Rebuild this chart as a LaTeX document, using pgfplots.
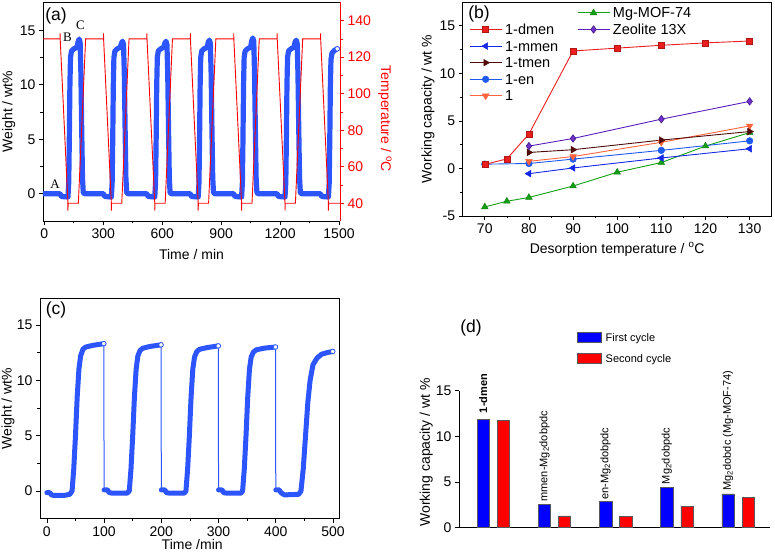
\documentclass[border=0pt]{standalone}
\usepackage{pgfplots}
\pgfplotsset{compat=1.18}
\usepackage{fontspec}
\setmainfont{Liberation Sans}
\newfontfamily\seriffont{Liberation Serif}
\definecolor{cblue}{RGB}{45,85,255}
\definecolor{dmenred}{RGB}{235,30,30}
\definecolor{mmenblue}{RGB}{20,40,230}
\definecolor{tmenbrown}{RGB}{80,10,10}
\definecolor{enblue}{RGB}{30,90,240}
\definecolor{oneorange}{RGB}{255,100,60}
\definecolor{mofgreen}{RGB}{20,160,20}
\definecolor{zeopurple}{RGB}{90,30,190}
\definecolor{zeofill}{RGB}{110,50,200}
\pgfplotsset{
  myax/.style={
    scale only axis,
    anchor=south west,
    tick align=outside,
    xtick pos=left, ytick pos=left,
    major tick length=4pt, minor tick length=2.5pt,
    every tick/.style={black, line width=0.7pt},
    axis line style={line width=0.8pt},
    tick label style={font=\fontsize{14}{16}\selectfont},
    /pgf/number format/assume math mode=true,
    /pgf/number format/1000 sep={},
  },
  dmen/.style={color=dmenred, line width=0.9pt, mark=square*, mark size=3pt, mark options={fill=dmenred, draw=dmenred!75!black, line width=0.5pt}},
  mmen/.style={color=mmenblue, line width=0.9pt, mark=triangle*, mark size=3.8pt, mark options={rotate=90, fill=mmenblue, draw=mmenblue, line width=0.5pt}},
  tmen/.style={color=tmenbrown, line width=0.9pt, mark=triangle*, mark size=3.8pt, mark options={rotate=-90, fill=tmenbrown, draw=tmenbrown, line width=0.5pt}},
  en/.style={color=enblue, line width=0.9pt, mark=*, mark size=3.3pt, mark options={fill=enblue, draw=enblue, line width=0.5pt}},
  one/.style={color=oneorange, line width=0.9pt, mark=triangle*, mark size=3.8pt, mark options={rotate=180, fill=oneorange, draw=oneorange, line width=0.5pt}},
  mof/.style={color=mofgreen, line width=0.9pt, mark=triangle*, mark size=3.8pt, mark options={fill=mofgreen, draw=mofgreen!80!black, line width=0.5pt}},
  zeo/.style={color=zeopurple, line width=0.9pt, mark=diamond*, mark size=3.8pt, mark options={fill=zeofill, draw=zeopurple!70!black, line width=0.5pt}},
}
\begin{document}
\begin{tikzpicture}
\useasboundingbox (0pt,0pt) rectangle (775pt,551pt);

%% ---------------- (a) left axis: weight ----------------
\begin{axis}[myax, at={(43pt,330pt)}, width=297pt, height=219pt,
  xmin=-7, xmax=1505, ymin=-2.5, ymax=17.6,
  axis y line*=left,
  xtick={0,300,...,1500}, minor x tick num=1,
  ytick={0,5,10,15}, minor y tick num=1,
  xlabel={Time / min}, ylabel={Weight / wt\%},
  every axis x label/.style={at={(axis description cs:0.5,-0.178)}, anchor=base, font=\fontsize{14}{16}\selectfont},
  every axis y label/.style={at={(axis description cs:-0.115,0.5)}, rotate=90, anchor=center, font=\fontsize{14}{16}\selectfont},
]
\addplot[cblue, line width=5.2pt, line join=round, line cap=round] coordinates {
(-7,0) (80,0)
(86,-0.25) (120,-0.3) (124,1) (127,5) (130,10) (133,12.5) (138,13.1) (150,13.3) (166,13.45) (171,13.9) (177,14.2) (182,13.9) (186,11) (190,6) (194,1.5) (198,0.1) (205,0) (301,0)
(307,-0.25) (341,-0.3) (345,1) (348,5) (351,10) (354,12.5) (359,13.1) (371,13.3) (387,13.45) (392,13.8) (398,14.0) (403,13.7) (407,11) (411,6) (415,1.5) (419,0.1) (426,0) (522,0)
(528,-0.25) (562,-0.3) (566,1) (569,5) (572,10) (575,12.5) (580,13.1) (592,13.3) (608,13.45) (613,13.8) (619,14.0) (624,13.7) (628,11) (632,6) (636,1.5) (640,0.1) (647,0) (743,0)
(749,-0.25) (783,-0.3) (787,1) (790,5) (793,10) (796,12.5) (801,13.1) (813,13.3) (829,13.45) (834,13.9) (840,14.1) (845,13.8) (849,11) (853,6) (857,1.5) (861,0.1) (868,0) (964,0)
(970,-0.25) (1004,-0.3) (1008,1) (1011,5) (1014,10) (1017,12.5) (1022,13.1) (1034,13.3) (1050,13.45) (1055,14.0) (1061,14.3) (1066,14.0) (1070,11) (1074,6) (1078,1.5) (1082,0.1) (1089,0) (1185,0)
(1191,-0.25) (1225,-0.3) (1229,1) (1232,5) (1235,10) (1238,12.5) (1243,13.1) (1255,13.3) (1271,13.45) (1276,13.9) (1282,14.1) (1287,13.8) (1291,11) (1295,6) (1299,1.5) (1303,0.1) (1310,0) (1406,0)
(1412,-0.25) (1446,-0.3) (1450,1) (1453,5) (1456,10) (1459,12.3) (1464,12.9) (1476,13.15) (1491,13.3)
};
\addplot[only marks, mark=*, mark size=2.3pt, mark options={fill=white, draw=cblue, line width=0.8pt}] coordinates {(1491,13.3)};
\node[font=\fontsize{17.5}{20}\selectfont] at (axis description cs:0.0438,0.934) {(a)};
\node[font=\seriffont\fontsize{13}{15}\selectfont] at (axis cs:54.5,0.9) {A};
\node[font=\seriffont\fontsize{13}{15}\selectfont] at (axis cs:118,14.37) {B};
\node[font=\seriffont\fontsize{13}{15}\selectfont] at (axis cs:184,15.43) {C};
\end{axis}

%% ---------------- (a) right axis: temperature ----------------
\begin{axis}[myax, at={(43pt,330pt)}, width=297pt, height=219pt,
  xmin=-7, xmax=1505, ymin=30.3, ymax=150.2,
  axis y line*=right, axis x line=none,
  ytick pos=right,
  ytick={40,60,...,140}, minor y tick num=1,
  y axis line style={red, line width=0.8pt},
  every tick/.style={red, line width=0.7pt},
  yticklabel style={red},
  ylabel={Temperature / \textsuperscript{o}C},
  every axis y label/.style={at={(axis description cs:1.151,0.466)}, rotate=-90, anchor=center, red, font=\fontsize{14}{16}\selectfont},
]
\addplot[red, line width=0.9pt] coordinates {
(-7,130) (80,130) (80,133) (80.5,130) (120,40) (120,36) (121,40) (173,40) (210,130)
(301,130) (301,133) (301.5,130) (341,40) (341,36) (342,40) (394,40) (431,130)
(522,130) (522,133) (522.5,130) (562,40) (562,36) (563,40) (615,40) (652,130)
(743,130) (743,133) (743.5,130) (783,40) (783,36) (784,40) (836,40) (873,130)
(964,130) (964,133) (964.5,130) (1004,40) (1004,36) (1005,40) (1057,40) (1094,130)
(1185,130) (1185,133) (1185.5,130) (1225,40) (1225,36) (1226,40) (1278,40) (1315,130)
(1406,130) (1406,133) (1406.5,130) (1446,40) (1446,36) (1447,40) (1505,40)
};
\end{axis}

%% ---------------- (b) ----------------
\begin{axis}[myax, at={(462.7pt,335pt)}, width=309pt, height=214pt,
  xmin=65, xmax=135, ymin=-5, ymax=17.5,
  xtick={70,80,...,130}, minor x tick num=1,
  ytick={-5,0,5,10,15}, minor y tick num=1,
  xlabel={Desorption temperature / \textsuperscript{o}C},
  ylabel={Working capacity / wt \%},
  every axis x label/.style={at={(axis description cs:0.5,-0.173)}, anchor=base, font=\fontsize{14}{16}\selectfont},
  every axis y label/.style={at={(axis description cs:-0.112,0.5)}, rotate=90, anchor=center, font=\fontsize{14}{16}\selectfont},
  legend columns=2,
  legend cell align=left,
  legend style={draw=none, fill=none, inner sep=0pt, at={(axis description cs:0.0204,0.9827)}, anchor=north west,
    font=\fontsize{14.5}{16}\selectfont, nodes={inner sep=1pt, text height=11pt, text depth=1pt},
    row sep=2.6pt, column sep=2pt, /tikz/every even column/.append style={column sep=17.8pt}},
  legend image code/.code={\draw[mark repeat=2,mark phase=2,#1] plot coordinates {(0pt,0pt) (16pt,0pt) (32pt,0pt)};},
]
\addplot[mof, forget plot] coordinates {(70,-4.05) (75,-3.45) (80,-3.05) (90,-1.85) (100,-0.4) (110,0.62) (120,2.35) (130,3.77)};
\addplot[mmen, forget plot] coordinates {(80,-0.55) (90,0.05) (110,1.1) (130,2.07)};
\addplot[en, forget plot] coordinates {(70,0.45) (80,0.52) (90,0.98) (110,1.9) (130,2.9)};
\addplot[one, forget plot] coordinates {(80,0.75) (90,1.25) (110,2.75) (130,4.47)};
\addplot[tmen, forget plot] coordinates {(80,1.68) (90,1.97) (110,2.98) (130,3.88)};
\addplot[zeo, forget plot] coordinates {(80,2.35) (90,3.15) (110,5.18) (130,7.05)};
\addplot[dmen, forget plot] coordinates {(70,0.42) (75,1.0) (80,3.62) (90,12.35) (100,12.65) (110,12.95) (120,13.2) (130,13.4)};
\addlegendimage{empty legend}\addlegendentry{}
\addlegendimage{mof}\addlegendentry{Mg-MOF-74}
\addlegendimage{dmen}\addlegendentry{1-dmen}
\addlegendimage{zeo}\addlegendentry{Zeolite 13X}
\addlegendimage{mmen}\addlegendentry{1-mmen}
\addlegendimage{empty legend}\addlegendentry{}
\addlegendimage{tmen}\addlegendentry{1-tmen}
\addlegendimage{empty legend}\addlegendentry{}
\addlegendimage{en}\addlegendentry{1-en}
\addlegendimage{empty legend}\addlegendentry{}
\addlegendimage{one}\addlegendentry{1}
\node[font=\fontsize{17.5}{20}\selectfont] at (axis description cs:0.0528,0.946) {(b)};
\end{axis}

%% ---------------- (c) ----------------
\begin{axis}[myax, at={(40pt,32.3pt)}, width=299.3pt, height=220.4pt,
  xmin=-12, xmax=511, ymin=-2.5, ymax=17.4,
  xtick={0,100,...,500}, minor x tick num=1,
  ytick={0,5,10,15}, minor y tick num=1,
  xlabel={Time /min}, ylabel={Weight / wt\%},
  every axis x label/.style={at={(axis description cs:0.5085,-0.1375)}, anchor=base, font=\fontsize{14}{16}\selectfont},
  every axis y label/.style={at={(axis description cs:-0.107,0.5)}, rotate=90, anchor=center, font=\fontsize{14}{16}\selectfont},
]
\addplot[cblue, line width=1pt] coordinates {(99.5,13.3) (100,0.1)};
\addplot[cblue, line width=1pt] coordinates {(199.5,13.2) (200,0.1)};
\addplot[cblue, line width=1pt] coordinates {(299.5,13.1) (300,0.1)};
\addplot[cblue, line width=1pt] coordinates {(399.5,13.0) (400,0.1)};
\addplot[cblue, line width=5pt, line join=round, line cap=round] coordinates {
(0,-0.15) (5,-0.15) (8,-0.35) (12,-0.4) (30,-0.4) (40,-0.3) (44,0) (47,2) (50,5) (53,8.5) (56,11) (59,12.2) (63,12.8) (68,13.0) (80,13.15) (99.5,13.3)};
\addplot[cblue, line width=5pt, line join=round, line cap=round] coordinates {
(100,0.1) (106,0.1) (109,-0.15) (115,-0.2) (140,-0.2) (144,0) (147,2) (150,5) (153,8.5) (156,11) (159,12.2) (163,12.7) (168,12.9) (180,13.05) (199.5,13.2)};
\addplot[cblue, line width=5pt, line join=round, line cap=round] coordinates {
(200,0.1) (206,0.1) (209,-0.15) (215,-0.2) (240,-0.2) (243,0) (246,2) (249,5) (252,8.5) (255,11) (258,12.1) (262,12.6) (267,12.8) (280,12.95) (299.5,13.1)};
\addplot[cblue, line width=5pt, line join=round, line cap=round] coordinates {
(300,0.1) (306,0.1) (309,-0.15) (315,-0.2) (339,-0.2) (342,0) (345,2) (348,5) (351,8.5) (354,11) (357,12.1) (361,12.55) (366,12.75) (380,12.9) (399.5,13.0)};
\addplot[cblue, line width=5pt, line join=round, line cap=round] coordinates {
(400,0.1) (406,0.1) (409,-0.15) (415,-0.35) (440,-0.3) (444,0) (448,2) (452,5) (456,8) (460,10) (465,11.4) (472,12.0) (480,12.35) (490,12.5) (499.5,12.6)};
\addplot[only marks, mark=*, mark size=2.3pt, mark options={fill=white, draw=cblue, line width=0.8pt}] coordinates {(99.5,13.3) (199.5,13.2) (299.5,13.1) (399.5,13.0) (499.5,12.6)};
\node[font=\fontsize{17.5}{20}\selectfont] at (axis description cs:0.0535,0.947) {(c)};
\end{axis}

%% ---------------- (d) ----------------
\begin{axis}[scale only axis, anchor=south west, at={(459pt,23.3pt)}, width=311pt, height=137pt,
  xmin=-0.56, xmax=4.52, ymin=0, ymax=15,
  axis x line*=bottom, axis y line*=left,
  axis line style={line width=0.8pt},
  xtick=\empty, ytick={0,5,10,15},
  tick align=outside, major tick length=4pt,
  every tick/.style={black, line width=0.7pt},
  tick label style={font=\fontsize{14}{16}\selectfont},
  /pgf/number format/assume math mode=true,
  ylabel={Working capacity / wt \%},
  every axis y label/.style={at={(axis description cs:-0.105,0.549)}, rotate=90, anchor=center, font=\fontsize{14}{16}\selectfont},
  clip=false,
  legend cell align=left,
  legend style={draw=none, fill=none, inner sep=0pt, at={(axis description cs:0.3785,1.4358)}, anchor=north west,
    font=\fontsize{11}{13}\selectfont, nodes={inner sep=1pt, text height=9pt, text depth=1pt},
    row sep=9pt, column sep=3pt},
  legend image code/.code={\draw[#1] (0pt,-4.7pt) rectangle (24.3pt,4.7pt);},
]
\addplot[ybar, bar width=0.2, bar shift=-0.165, fill=blue, draw=black!65, line width=0.5pt, forget plot]
  coordinates {(0,11.9) (1,2.56) (2,2.85) (3,4.45) (4,3.7)};
\addplot[ybar, bar width=0.2, bar shift=0.165, fill=red, draw=black!65, line width=0.5pt, forget plot]
  coordinates {(0,11.72) (1,1.3) (2,1.25) (3,2.35) (4,3.35)};
\addlegendimage{fill=blue, draw=black!65, line width=0.5pt}
\addlegendentry{First cycle}
\addlegendimage{fill=red, draw=black!65, line width=0.5pt}
\addlegendentry{Second cycle}
\node[rotate=90, anchor=west, inner sep=0pt, font=\bfseries\fontsize{11}{13}\selectfont] at (axis cs:-0.165,12.53) {1-dmen};
\node[rotate=90, anchor=west, inner sep=0pt, font=\fontsize{11}{13}\selectfont] at (axis cs:0.835,2.85) {mmen-Mg\textsubscript{2}dobpdc};
\node[rotate=90, anchor=west, inner sep=0pt, font=\fontsize{11}{13}\selectfont] at (axis cs:1.835,3.03) {en-Mg\textsubscript{2}dobpdc};
\node[rotate=90, anchor=west, inner sep=0pt, font=\fontsize{11}{13}\selectfont] at (axis cs:2.835,4.75) {Mg\textsubscript{2}dobpdc};
\node[rotate=90, anchor=west, inner sep=0pt, font=\fontsize{11}{13}\selectfont] at (axis cs:3.835,4.05) {Mg\textsubscript{2}dobdc (Mg-MOF-74)};
\node[font=\fontsize{17.5}{20}\selectfont] at (axis description cs:0.0386,1.458) {(d)};
\end{axis}
\end{tikzpicture}
\end{document}
